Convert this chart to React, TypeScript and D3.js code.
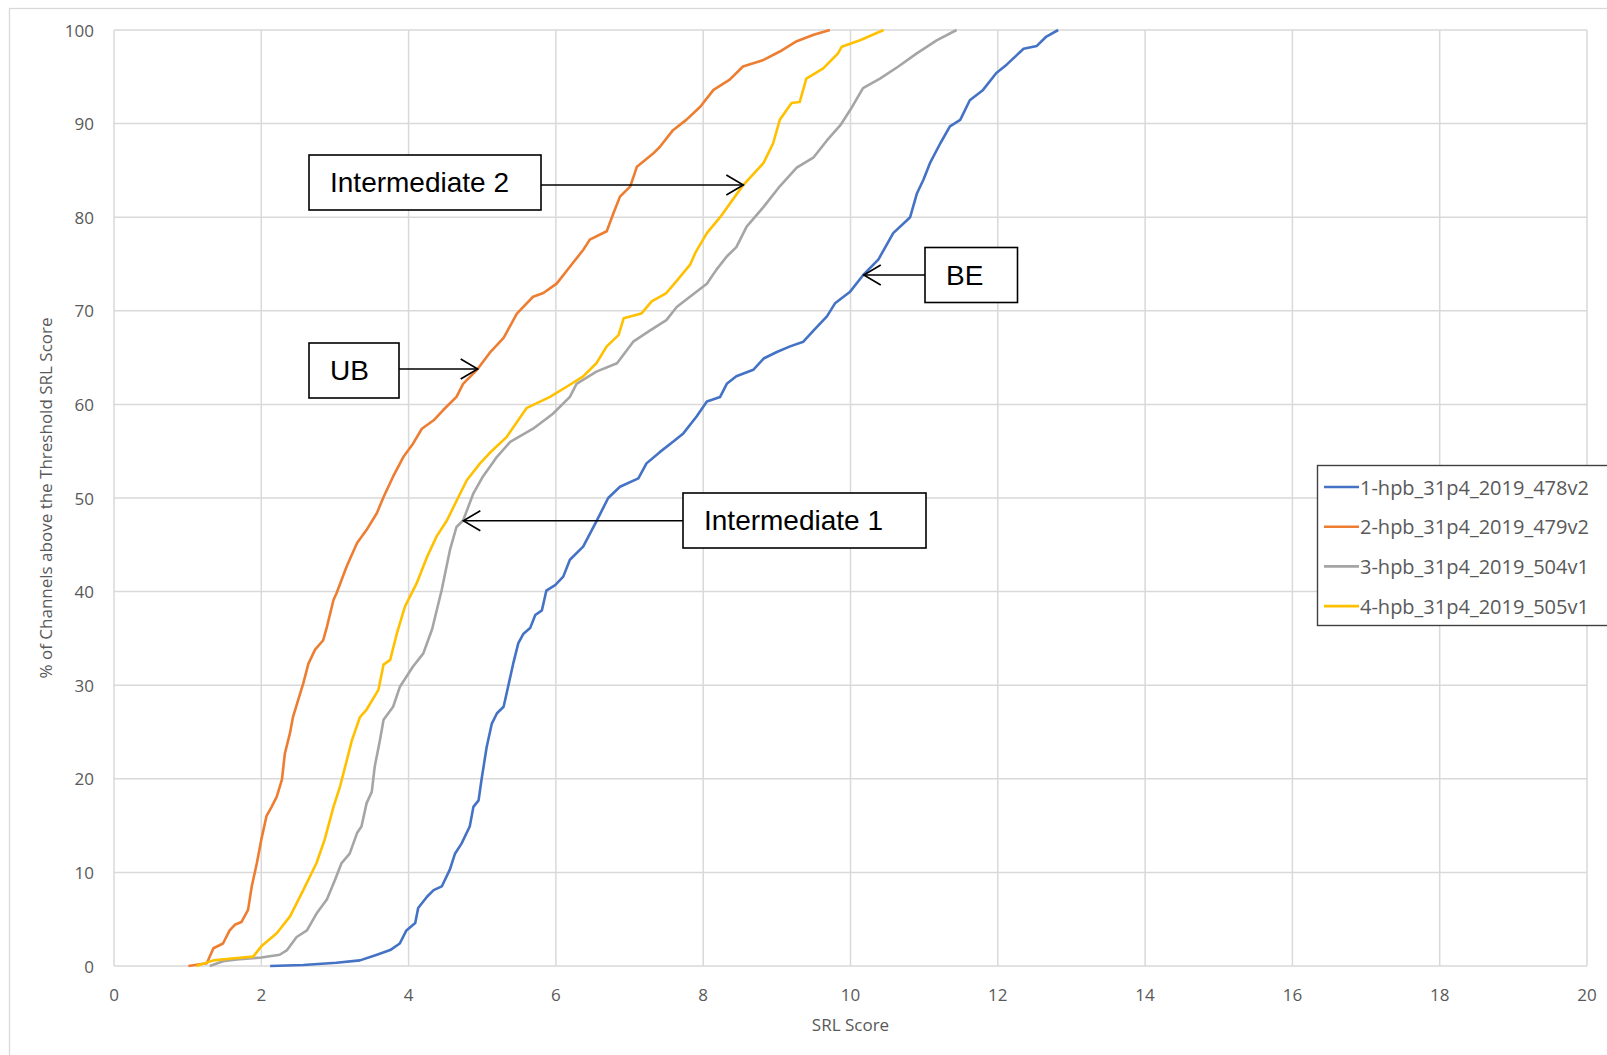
import * as d3 from "d3";
import { useEffect, useRef } from "react";

// series: [SRL score, % of channels above threshold]
const seriesNames = [
  "1-hpb_31p4_2019_478v2",
  "2-hpb_31p4_2019_479v2",
  "3-hpb_31p4_2019_504v1",
  "4-hpb_31p4_2019_505v1",
];
const seriesColors = ["#4472C4", "#ED7D31", "#A5A5A5", "#FFC000"];

const xTicks = [0, 2, 4, 6, 8, 10, 12, 14, 16, 18, 20];
const yTicks = [0, 10, 20, 30, 40, 50, 60, 70, 80, 90, 100];

const hpb478 = [
  [2.12, 0], [2.57, 0.1], [3.02, 0.35], [3.34, 0.6], [3.57, 1.2], [3.75, 1.7], [3.88, 2.4],
  [3.97, 3.8], [4.09, 4.6], [4.13, 6.2], [4.25, 7.4], [4.34, 8.1], [4.45, 8.5], [4.56, 10.3],
  [4.63, 12], [4.72, 13.1], [4.83, 14.9], [4.88, 17], [4.95, 17.7], [4.99, 19.9], [5.06, 23.4],
  [5.13, 25.9], [5.2, 27], [5.29, 27.7], [5.35, 29.8], [5.42, 32.3], [5.49, 34.5], [5.56, 35.5],
  [5.65, 36.1], [5.72, 37.5], [5.81, 38], [5.87, 40.1], [5.99, 40.7], [6.1, 41.6], [6.19, 43.4],
  [6.37, 44.8], [6.55, 47.5], [6.71, 50], [6.87, 51.2], [7.12, 52.1], [7.23, 53.7], [7.41, 54.9],
  [7.59, 56], [7.73, 56.9], [7.91, 58.7], [8.05, 60.3], [8.23, 60.8], [8.32, 62.2], [8.45, 63],
  [8.68, 63.7], [8.82, 64.9], [9.0, 65.6], [9.18, 66.2], [9.36, 66.7], [9.5, 67.9], [9.68, 69.4],
  [9.79, 70.8], [9.99, 72], [10.17, 73.8], [10.38, 75.5], [10.58, 78.3], [10.81, 80], [10.9, 82.5],
  [10.99, 84], [11.08, 85.8], [11.22, 87.9], [11.35, 89.7], [11.49, 90.4], [11.62, 92.5],
  [11.8, 93.6], [11.98, 95.4], [12.12, 96.3], [12.35, 98.0], [12.53, 98.3], [12.66, 99.3], [12.82, 100],
];

const hpb479 = [
  [1.01, 0], [1.26, 0.3], [1.35, 1.9], [1.48, 2.4], [1.57, 3.8], [1.64, 4.4], [1.73, 4.7],
  [1.82, 6.0], [1.87, 8.5], [1.94, 11], [2.0, 13.5], [2.07, 16], [2.14, 17], [2.21, 18.1],
  [2.28, 19.9], [2.32, 22.7], [2.39, 24.9], [2.43, 26.6], [2.5, 28.4], [2.57, 30.2], [2.64, 32.3],
  [2.73, 33.8], [2.84, 34.8], [2.89, 36.2], [2.98, 39.1], [3.02, 39.8], [3.16, 42.7], [3.3, 45.2],
  [3.43, 46.6], [3.57, 48.4], [3.66, 50.1], [3.79, 52.3], [3.93, 54.4], [4.06, 55.8], [4.18, 57.4],
  [4.34, 58.3], [4.47, 59.4], [4.65, 60.8], [4.74, 62.2], [4.94, 63.8], [5.1, 65.5], [5.29, 67.1],
  [5.47, 69.7], [5.69, 71.5], [5.83, 71.9], [6.01, 72.9], [6.19, 74.7], [6.37, 76.5], [6.46, 77.6],
  [6.69, 78.5], [6.78, 80.4], [6.87, 82.2], [7.01, 83.3], [7.1, 85.4], [7.32, 86.8], [7.41, 87.5],
  [7.59, 89.3], [7.77, 90.4], [7.96, 91.8], [8.14, 93.6], [8.36, 94.7], [8.54, 96.1], [8.82, 96.8],
  [9.04, 97.7], [9.27, 98.8], [9.5, 99.5], [9.72, 100],
];

const hpb504 = [
  [1.3, 0], [1.48, 0.5], [1.67, 0.7], [2.0, 0.9], [2.25, 1.2], [2.35, 1.7], [2.48, 3.1],
  [2.62, 3.8], [2.75, 5.6], [2.89, 7.1], [3.0, 9.2], [3.09, 11], [3.2, 12], [3.3, 14.2],
  [3.36, 14.9], [3.43, 17.4], [3.5, 18.6], [3.54, 21.3], [3.61, 24.1], [3.66, 26.3], [3.79, 27.7],
  [3.88, 29.8], [4.06, 32], [4.2, 33.4], [4.32, 36.0], [4.45, 40.2], [4.56, 44.4], [4.65, 46.9],
  [4.74, 47.6], [4.88, 50.5], [5.01, 52.3], [5.2, 54.4], [5.38, 56], [5.69, 57.4], [5.96, 59],
  [6.19, 60.8], [6.28, 62.2], [6.55, 63.5], [6.83, 64.4], [7.05, 66.7], [7.28, 67.9], [7.5, 69],
  [7.64, 70.4], [7.82, 71.5], [8.05, 72.9], [8.18, 74.4], [8.32, 75.8], [8.45, 76.8], [8.59, 79],
  [8.82, 81.1], [9.04, 83.3], [9.27, 85.3], [9.5, 86.4], [9.68, 88.2], [9.86, 89.8], [10.0, 91.5],
  [10.17, 93.8], [10.4, 94.8], [10.65, 96.1], [10.9, 97.5], [11.17, 98.9], [11.44, 100],
];

const hpb505 = [
  [1.12, 0], [1.35, 0.6], [1.6, 0.8], [1.89, 1.0], [2.0, 2.1], [2.21, 3.5], [2.39, 5.3],
  [2.57, 8.1], [2.75, 11], [2.86, 13.5], [2.98, 17], [3.07, 19.2], [3.23, 24.1], [3.34, 26.6],
  [3.43, 27.4], [3.59, 29.5], [3.66, 32.2], [3.75, 32.7], [3.84, 35.5], [3.95, 38.4], [4.11, 40.9],
  [4.25, 43.7], [4.38, 45.9], [4.52, 47.6], [4.67, 50], [4.79, 51.9], [4.97, 53.7], [5.1, 54.8],
  [5.33, 56.5], [5.6, 59.6], [5.92, 60.8], [6.19, 62.1], [6.37, 63], [6.55, 64.4], [6.69, 66.2],
  [6.85, 67.4], [6.92, 69.2], [7.16, 69.7], [7.3, 71.0], [7.5, 71.9], [7.64, 73.2], [7.82, 74.9],
  [7.9, 76.3], [8.05, 78.3], [8.23, 80], [8.54, 83.4], [8.82, 85.8], [8.95, 87.9], [9.04, 90.4],
  [9.2, 92.2], [9.31, 92.3], [9.4, 94.8], [9.63, 95.9], [9.83, 97.5], [9.88, 98.2], [10.13, 98.9],
  [10.45, 100],
];

const seriesData = [hpb478, hpb479, hpb504, hpb505];

// callouts: arrow tip in data units, box in pixels
const callouts = [
  { label: "Intermediate 2", tip: [8.545, 83.44], box: { x: 309, y: 155, w: 232 } },
  { label: "UB", tip: [4.938, 63.78], box: { x: 309, y: 343, w: 90 } },
  { label: "BE", tip: [10.18, 73.82], box: { x: 925, y: 247.5, w: 92.5 } },
  { label: "Intermediate 1", tip: [4.743, 47.57], box: { x: 683, y: 493, w: 243 } },
];

export default function App() {
  const ref = useRef<SVGSVGElement>(null);

  useEffect(() => {
    const svg = d3.select(ref.current);
    svg.selectAll("*").remove();

    const width = 1607;
    const height = 1055;
    const margin = { top: 30, right: 20, bottom: 89, left: 114 };
    const axisFont = "'Open Sans', sans-serif";

    svg.attr("width", width).attr("height", height);

    // chart area border
    svg.append("rect")
      .attr("x", 9.5).attr("y", 8.5)
      .attr("width", 1640).attr("height", 1080)
      .attr("fill", "white")
      .attr("stroke", "#d9d9d9")
      .attr("stroke-width", 1.3);

    const x = d3.scaleLinear().domain([0, 20]).range([margin.left, width - margin.right]);
    const y = d3.scaleLinear().domain([0, 100]).range([height - margin.bottom, margin.top]);

    // grid
    const grid = svg.append("g").attr("stroke", "#d9d9d9").attr("stroke-width", 1.5);
    grid.selectAll("line.v").data(xTicks).join("line")
      .attr("x1", d => x(d)).attr("x2", d => x(d))
      .attr("y1", y(0)).attr("y2", y(100));
    grid.selectAll("line.h").data(yTicks).join("line")
      .attr("class", "h")
      .attr("x1", x(0)).attr("x2", x(20))
      .attr("y1", d => y(d)).attr("y2", d => y(d));

    // tick labels
    svg.append("g")
      .selectAll("text").data(yTicks).join("text")
      .attr("x", x(0) - 20).attr("y", d => y(d))
      .attr("text-anchor", "end").attr("dominant-baseline", "central")
      .attr("font-family", axisFont).attr("font-size", 17).attr("fill", "#595959")
      .text(d => d);
    svg.append("g")
      .selectAll("text").data(xTicks).join("text")
      .attr("x", d => x(d)).attr("y", y(0) + 28)
      .attr("text-anchor", "middle").attr("dominant-baseline", "central")
      .attr("font-family", axisFont).attr("font-size", 17).attr("fill", "#595959")
      .text(d => d);

    // axis titles
    svg.append("text")
      .attr("x", (x(0) + x(20)) / 2).attr("y", 1024)
      .attr("text-anchor", "middle").attr("dominant-baseline", "central")
      .attr("font-family", axisFont).attr("font-size", 17).attr("fill", "#595959")
      .text("SRL Score");
    svg.append("text")
      .attr("transform", `translate(45,${(y(0) + y(100)) / 2}) rotate(-90)`)
      .attr("text-anchor", "middle").attr("dominant-baseline", "central")
      .attr("font-family", axisFont).attr("font-size", 17).attr("fill", "#595959")
      .text("% of Channels above the Threshold SRL Score");

    // series lines
    const line = d3.line<number[]>().x(d => x(d[0])).y(d => y(d[1]));
    svg.append("g")
      .selectAll("path").data(seriesData).join("path")
      .attr("d", d => line(d))
      .attr("fill", "none")
      .attr("stroke", (d, i) => seriesColors[i])
      .attr("stroke-width", 2.6)
      .attr("stroke-linejoin", "round");

    // callouts
    const boxH = 55;
    const cg = svg.append("g").selectAll("g").data(callouts).join("g");
    cg.append("line")
      .attr("x1", d => (x(d.tip[0]) > d.box.x ? d.box.x + d.box.w : d.box.x))
      .attr("x2", d => x(d.tip[0]))
      .attr("y1", d => y(d.tip[1])).attr("y2", d => y(d.tip[1]))
      .attr("stroke", "black").attr("stroke-width", 1.6);
    cg.append("path")
      .attr("d", d => {
        const tx = x(d.tip[0]);
        const ty = y(d.tip[1]);
        const dir = tx > d.box.x ? -1 : 1;
        return `M${tx + dir * 17},${ty - 10}L${tx},${ty}L${tx + dir * 17},${ty + 10}`;
      })
      .attr("fill", "none").attr("stroke", "black").attr("stroke-width", 1.6);
    cg.append("rect")
      .attr("x", d => d.box.x).attr("y", d => d.box.y)
      .attr("width", d => d.box.w).attr("height", boxH)
      .attr("fill", "white").attr("stroke", "black").attr("stroke-width", 1.6);
    cg.append("text")
      .attr("x", d => d.box.x + 21).attr("y", d => d.box.y + 37)
      .attr("font-family", "'Liberation Sans', Arial, sans-serif").attr("font-size", 28)
      .attr("fill", "black")
      .text(d => d.label);

    // legend
    const lg = svg.append("g");
    lg.append("rect")
      .attr("x", 1317.5).attr("y", 465.5)
      .attr("width", 320).attr("height", 160)
      .attr("fill", "white").attr("stroke", "#404040").attr("stroke-width", 1.4);
    const items = lg.selectAll("g").data(seriesNames).join("g")
      .attr("transform", (d, i) => `translate(1324,${487 + i * 39.7})`);
    items.append("line")
      .attr("x1", 0).attr("x2", 35).attr("y1", 0).attr("y2", 0)
      .attr("stroke", (d, i) => seriesColors[i]).attr("stroke-width", 2.6);
    items.append("text")
      .attr("x", 36).attr("y", 0).attr("dominant-baseline", "central")
      .attr("font-family", axisFont).attr("font-size", 20).attr("fill", "#595959")
      .text(d => d);
  }, []);

  return (
    <svg ref={ref} style={{ position: "absolute", left: 0, top: 0, display: "block" }}></svg>
  );
}
